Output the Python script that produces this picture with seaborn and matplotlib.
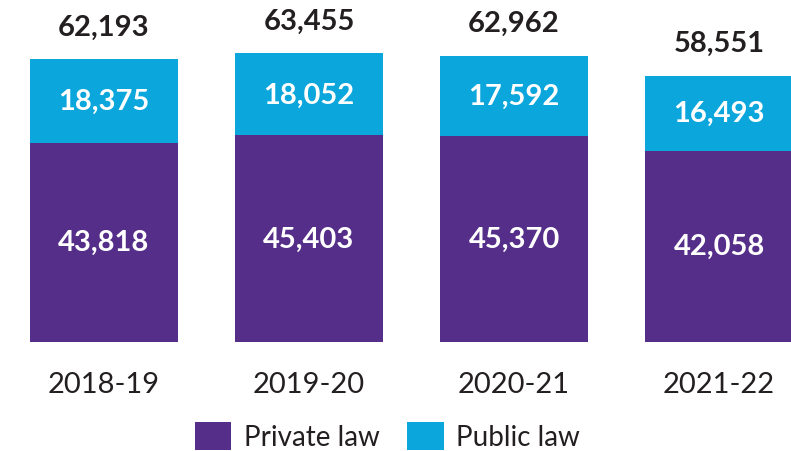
import matplotlib
matplotlib.use("Agg")
import matplotlib.pyplot as plt
import seaborn as sns
import pandas as pd
from matplotlib.patches import Patch

years = ["2018-19", "2019-20", "2020-21", "2021-22"]
private_law = [43818, 45403, 45370, 42058]
public_law = [18375, 18052, 17592, 16493]
totals = [62193, 63455, 62962, 58551]

PURPLE = "#552E89"
BLUE = "#0AA6DC"

sns.set_theme(style="white")
plt.rcParams["font.family"] = ["Lato", "DejaVu Sans"]

df = pd.DataFrame({"year": years, "private": private_law, "public": public_law,
                   "total": [p + q for p, q in zip(private_law, public_law)]})

fig = plt.figure(figsize=(7.91, 4.52), dpi=100)
ax = fig.add_axes([0, 1 - 343 / 452, 1, 343 / 452])

sns.barplot(data=df, x="year", y="total", color=BLUE, width=0.72, ax=ax,
            saturation=1, linewidth=0)
sns.barplot(data=df, x="year", y="private", color=PURPLE, width=0.72, ax=ax,
            saturation=1, linewidth=0)

ax.set_xlim(-0.507, 3.351)
ax.set_ylim(0, 75400)
for s in ax.spines.values():
    s.set_visible(False)
ax.set_yticks([])
ax.set_xlabel("")
ax.set_ylabel("")
ax.tick_params(axis="x", length=0, pad=21, labelsize=21, colors="#231F20")

for i, (pv, pb, tot) in enumerate(zip(private_law, public_law, totals)):
    ax.text(i, pv / 2, f"{pv:,}", ha="center", va="center", color="white",
            fontsize=21, fontweight="bold")
    ax.text(i, pv + pb / 2, f"{pb:,}", ha="center", va="center", color="white",
            fontsize=21, fontweight="bold")
    ax.annotate(f"{tot:,}", (i, pv + pb), xytext=(0, 14), textcoords="offset points",
                ha="center", va="bottom", color="#231F20", fontsize=21,
                fontweight="bold")

handles = [Patch(facecolor=PURPLE, edgecolor="none", label="Private law"),
           Patch(facecolor=BLUE, edgecolor="none", label="Public law")]
fig.legend(handles=handles, loc="lower center", bbox_to_anchor=(0.49, -0.005),
           ncol=2, frameon=False, fontsize=20, handlelength=1.3, handleheight=1.2,
           handletextpad=0.45, columnspacing=1.0, borderaxespad=0, borderpad=0.1,
           labelcolor="#231F20")

fig.savefig("out.png", dpi=100)
